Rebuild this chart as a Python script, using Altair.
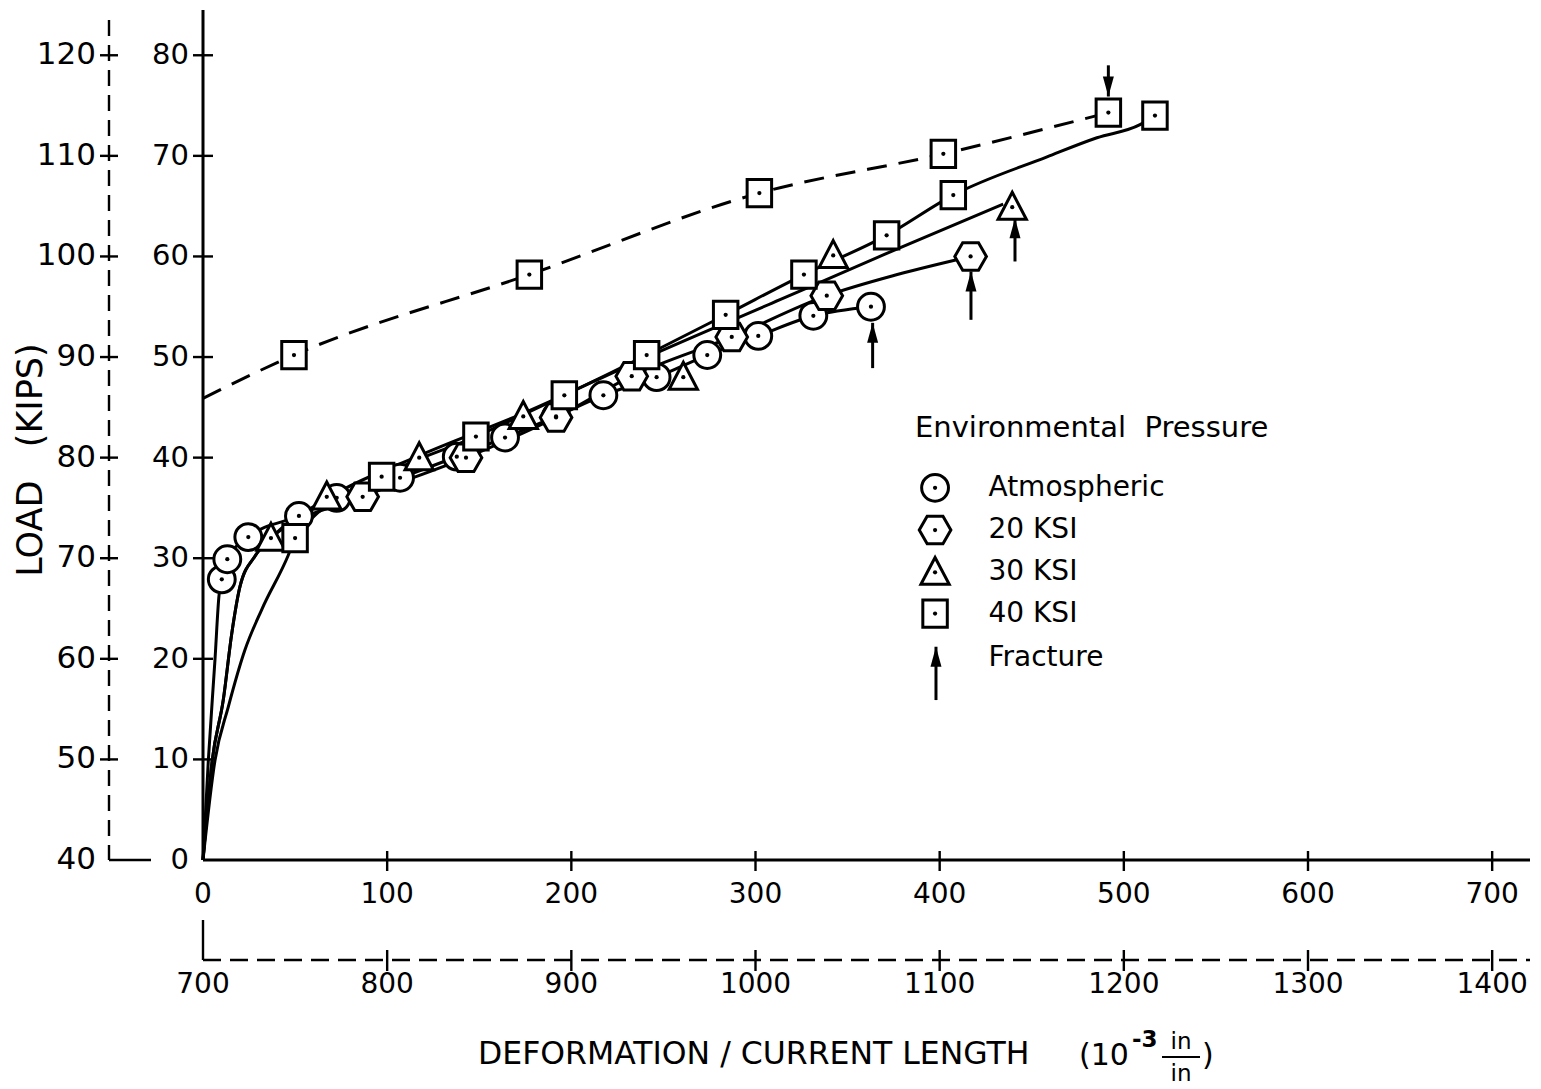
import altair as alt
import pandas as pd

# ---------------- data ----------------
# markers (primary axes: deformation x 10^-3, load in kips)
atm_x = [10.2, 13.2, 24.6, 52.1, 72.6, 107.0, 137.8, 164.0, 191.7, 217.4, 246.3, 273.8, 301.5, 331.4, 362.7]
atm_y = [27.9, 29.9, 32.1, 34.2, 36.0, 38.0, 40.1, 42.0, 44.1, 46.2, 48.0, 50.2, 52.1, 54.1, 55.0]
k20_x = [86.7, 142.8, 191.7, 232.8, 287.1, 338.7, 416.8]
k20_y = [36.1, 40.0, 44.0, 48.1, 52.0, 56.1, 60.0]
k30_x = [36.9, 67.2, 117.4, 173.9, 260.8, 342.2, 439.4]
k30_y = [32.0, 36.1, 40.0, 44.1, 48.0, 60.1, 64.9]
k40_x = [50.0, 97.0, 148.2, 196.2, 240.9, 283.8, 326.3, 371.2, 407.4, 516.9]
k40_y = [32.0, 38.1, 42.1, 46.2, 50.2, 54.2, 58.2, 62.1, 66.1, 74.0]
k40d_x = [49.4, 177.2, 302.1, 402.0, 491.6]
k40d_y = [50.2, 58.2, 66.3, 70.2, 74.3]

# hand-drawn fitted curves
atm_fit_x = [0, 2.9, 6.5, 8.7, 10.2, 13.2, 24.6, 52.1, 72.6, 107.0, 137.8, 164.0, 191.7, 217.4, 246.3, 273.8, 301.5, 331.4, 362.7]
atm_fit_y = [0, 9.9, 19.9, 26.3, 27.9, 29.9, 32.1, 34.2, 36.0, 38.0, 40.1, 42.0, 44.1, 46.2, 48.0, 50.2, 52.1, 54.1, 55.0]
k20_fit_x = [0, 5.0, 11.0, 15.6, 20.1, 28.2, 36.9, 86.7, 142.8, 191.7, 232.8, 287.1, 338.7, 377.0, 416.8]
k20_fit_y = [0, 9.9, 15.9, 22.5, 27.2, 30.2, 32.0, 36.1, 40.0, 44.0, 48.1, 52.0, 56.1, 58.2, 60.0]
k30_fit_x = [0, 5.0, 11.0, 15.6, 20.1, 28.2, 36.9, 67.2, 117.4, 173.9, 240.0, 313.3, 370.0, 434.5]
k30_fit_y = [0, 9.9, 15.9, 22.5, 27.2, 30.2, 32.0, 35.9, 40.2, 44.4, 49.9, 55.7, 60.2, 65.2]
k40_fit_x = [0, 6.5, 13.7, 22.8, 31.9, 46.3, 50.0, 97.0, 148.2, 196.2, 240.9, 283.8, 326.3, 371.2, 407.4, 458.3, 485.4, 508.8, 516.9]
k40_fit_y = [0, 9.9, 15.2, 20.9, 24.9, 30.3, 32.0, 38.1, 42.1, 46.2, 50.2, 54.2, 58.2, 62.1, 66.1, 69.9, 71.8, 73.1, 74.0]
k40d_fit_x = [0, 49.4, 177.2, 302.1, 402.0, 491.6]
k40d_fit_y = [45.9, 50.2, 58.2, 66.3, 70.2, 74.3]

# fracture arrows (x, tail, tip)
frac_x = [363.6, 417.0, 440.9]
frac_tail = [48.9, 53.7, 59.5]
frac_tip = [53.4, 58.5, 63.8]
fracd_x = [491.6]
fracd_tail = [79.0]
fracd_tip = [75.9]

# legend
NB = "\u00a0"
legend_title = "Environmental" + NB + NB + "Pressure"
legend_labels = ["Atmospheric", "20 KSI", "30 KSI", "40 KSI", "Fracture"]
legend_sym_x = 397.5
legend_lab_x = 426.5
legend_rows_y = [37.0, 32.8, 28.6, 24.5, 20.1]
legend_arrow = (398.0, 15.9, 21.2)

# axes
y_ticks = [0, 10, 20, 30, 40, 50, 60, 70, 80]
y_tick_labels = ["0", "10", "20", "30", "40", "50", "60", "70", "80"]
y2_tick_labels = ["40", "50", "60", "70", "80", "90", "100", "110", "120"]
x_ticks = [0, 100, 200, 300, 400, 500, 600, 700]
x_tick_labels = ["0", "100", "200", "300", "400", "500", "600", "700"]
x2_tick_labels = ["700", "800", "900", "1000", "1100", "1200", "1300", "1400"]

# ---------------- styling ----------------
FONT = "DejaVu Sans"
W, H = 1326, 850
XS = alt.Scale(domain=[0, 720], nice=False, zero=False)
YS = alt.Scale(domain=[0, 84.5], nice=False, zero=False)
SW = 3.0

HEX = "M -1 0 L -0.5 -0.87 L 0.5 -0.87 L 1 0 L 0.5 0.87 L -0.5 0.87 Z"
TRI = "M 0 -1.05 L 1 0.85 L -1 0.85 Z"
SQR = "M -0.9 -1 L 0.9 -1 L 0.9 1 L -0.9 1 Z"
ARROW_UP = "M 0 0 L 0.55 2 L -0.55 2 Z"
ARROW_DN = "M 0 0 L 0.55 -2 L -0.55 -2 Z"


def X(f="x"):
    return alt.X(f"{f}:Q", scale=XS, axis=None)


def Y(f="y"):
    return alt.Y(f"{f}:Q", scale=YS, axis=None)


def frame(xs, ys):
    return pd.DataFrame({"x": xs, "y": ys})


layers = []

# fitted curves
for fx, fy in [(atm_fit_x, atm_fit_y), (k20_fit_x, k20_fit_y), (k30_fit_x, k30_fit_y), (k40_fit_x, k40_fit_y)]:
    layers.append(alt.Chart(frame(fx, fy)).mark_line(interpolate="monotone", color="black", strokeWidth=SW)
                  .encode(x=X(), y=Y()))
layers.append(alt.Chart(frame(k40d_fit_x, k40d_fit_y)).mark_line(interpolate="monotone", color="black",
                                                                   strokeWidth=SW, strokeDash=[20, 12])
              .encode(x=X(), y=Y()))

# markers (+ legend symbols)
sym_specs = [
    ("circle", 720, atm_x, atm_y, legend_rows_y[0]),
    (HEX, 1000, k20_x, k20_y, legend_rows_y[1]),
    (TRI, 800, k30_x, k30_y, legend_rows_y[2]),
    (SQR, 740, k40_x + k40d_x, k40_y + k40d_y, legend_rows_y[3]),
]
dot_x, dot_y = [], []
for shape, size, xs, ys, ly in sym_specs:
    px = list(xs) + [legend_sym_x]
    py = list(ys) + [ly]
    dot_x += px
    dot_y += py
    layers.append(alt.Chart(frame(px, py)).mark_point(shape=shape, size=size, filled=True, fill="white",
                                                      stroke="black", strokeWidth=SW, opacity=1)
                  .encode(x=X(), y=Y()))
layers.append(alt.Chart(frame(dot_x, dot_y)).mark_circle(size=18, color="black", opacity=1)
              .encode(x=X(), y=Y()))

# fracture arrows
arr = pd.DataFrame({"x": frac_x + [legend_arrow[0]], "tail": frac_tail + [legend_arrow[1]],
                    "tip": frac_tip + [legend_arrow[2]]})
layers.append(alt.Chart(arr).mark_rule(color="black", strokeWidth=3)
              .encode(x=X(), y=Y("tail"), y2="tip:Q"))
layers.append(alt.Chart(arr).mark_point(shape=ARROW_UP, size=400, filled=True, color="black", opacity=1)
              .encode(x=X(), y=Y("tip")))
arrd = pd.DataFrame({"x": fracd_x, "tail": fracd_tail, "tip": fracd_tip})
layers.append(alt.Chart(arrd).mark_rule(color="black", strokeWidth=3)
              .encode(x=X(), y=Y("tail"), y2="tip:Q"))
layers.append(alt.Chart(arrd).mark_point(shape=ARROW_DN, size=400, filled=True, color="black", opacity=1)
              .encode(x=X(), y=Y("tip")))

# legend text
leg = pd.DataFrame({"x": [legend_lab_x] * 5, "y": legend_rows_y, "t": legend_labels})
layers.append(alt.Chart(leg).mark_text(align="left", baseline="middle", font=FONT, fontSize=28, color="black")
              .encode(x=X(), y=Y(), text="t:N"))
legt = pd.DataFrame({"x": [386.6], "y": [42.9], "t": [legend_title]})
layers.append(alt.Chart(legt).mark_text(align="left", baseline="middle", font=FONT, fontSize=29, color="black")
              .encode(x=X(), y=Y(), text="t:N"))

# ---------------- axes ----------------
one = pd.DataFrame({"a": [0]})
# primary y axis line
layers.append(alt.Chart(one).mark_rule(color="black", strokeWidth=SW)
              .encode(x=alt.value(0), y=alt.value(0), y2=alt.value(H)))
ydf = pd.DataFrame({"y": y_ticks, "t": y_tick_labels, "t2": y2_tick_labels})
ydf_t = ydf[ydf["y"] > 0]
layers.append(alt.Chart(ydf_t).mark_rule(color="black", strokeWidth=2.4)
              .encode(y=Y(), x=alt.value(-10), x2=alt.value(10)))
layers.append(alt.Chart(ydf).mark_text(align="right", baseline="middle", font=FONT, fontSize=29, color="black")
              .encode(y=Y(), x=alt.value(-14), text="t:N"))
# secondary (dashed) y axis
layers.append(alt.Chart(one).mark_rule(color="black", strokeWidth=2.4, strokeDash=[16, 9])
              .encode(x=alt.value(-94), y=alt.value(10), y2=alt.value(H)))
layers.append(alt.Chart(one).mark_rule(color="black", strokeWidth=2.4)
              .encode(x=alt.value(-94), x2=alt.value(-52), y=alt.value(H)))
layers.append(alt.Chart(ydf_t).mark_rule(color="black", strokeWidth=2.4)
              .encode(y=Y(), x=alt.value(-103), x2=alt.value(-85)))
layers.append(alt.Chart(ydf).mark_text(align="right", baseline="middle", font=FONT, fontSize=31, color="black")
              .encode(y=Y(), x=alt.value(-107), text="t2:N"))
# primary x axis
layers.append(alt.Chart(one).mark_rule(color="black", strokeWidth=SW)
              .encode(y=alt.value(H), x=alt.value(0), x2=alt.value(W + 1)))
xdf = pd.DataFrame({"x": x_ticks, "t": x_tick_labels, "t2": x2_tick_labels})
xdf_t = xdf[xdf["x"] > 0]
layers.append(alt.Chart(xdf_t).mark_rule(color="black", strokeWidth=2.4)
              .encode(x=X(), y=alt.value(H - 9), y2=alt.value(H + 11)))
layers.append(alt.Chart(xdf).mark_text(align="center", baseline="middle", font=FONT, fontSize=28, color="black")
              .encode(x=X(), y=alt.value(H + 35), text="t:N"))
# secondary (dashed) x axis
layers.append(alt.Chart(one).mark_rule(color="black", strokeWidth=2.4)
              .encode(x=alt.value(0), y=alt.value(H + 60), y2=alt.value(H + 100)))
layers.append(alt.Chart(one).mark_rule(color="black", strokeWidth=2.4, strokeDash=[18, 9])
              .encode(y=alt.value(H + 100), x=alt.value(0), x2=alt.value(W + 1)))
layers.append(alt.Chart(xdf_t).mark_rule(color="black", strokeWidth=2.4)
              .encode(x=X(), y=alt.value(H + 90), y2=alt.value(H + 111)))
layers.append(alt.Chart(xdf).mark_text(align="center", baseline="middle", font=FONT, fontSize=28, color="black")
              .encode(x=X(), y=alt.value(H + 125), text="t2:N"))

# axis titles
ytitle = pd.DataFrame({"t": ["LOAD" + NB * 3 + "(KIPS)"]})
layers.append(alt.Chart(ytitle).mark_text(angle=270, align="center", baseline="middle", font=FONT, fontSize=35,
                                          color="black")
              .encode(x=alt.value(-172), y=alt.value(450), text="t:N"))
xt_main = pd.DataFrame({"t": ["DEFORMATION / CURRENT LENGTH"]})
layers.append(alt.Chart(xt_main).mark_text(align="left", baseline="middle", font=FONT, fontSize=31.5, color="black")
              .encode(x=alt.value(275), y=alt.value(H + 195), text="t:N"))
xt_p = pd.DataFrame({"t": ["(10"]})
layers.append(alt.Chart(xt_p).mark_text(align="left", baseline="middle", font=FONT, fontSize=30, color="black")
              .encode(x=alt.value(876), y=alt.value(H + 196), text="t:N"))
xt_e = pd.DataFrame({"t": ["-3"]})
layers.append(alt.Chart(xt_e).mark_text(align="left", baseline="middle", font=FONT, fontSize=23,
                                        fontWeight="bold", color="black")
              .encode(x=alt.value(929), y=alt.value(H + 180), text="t:N"))
xt_n = pd.DataFrame({"t": ["in"]})
layers.append(alt.Chart(xt_n).mark_text(align="center", baseline="middle", font=FONT, fontSize=23, color="black")
              .encode(x=alt.value(978), y=alt.value(H + 182), text="t:N"))
layers.append(alt.Chart(xt_n).mark_text(align="center", baseline="middle", font=FONT, fontSize=23, color="black")
              .encode(x=alt.value(978), y=alt.value(H + 214), text="t:N"))
layers.append(alt.Chart(one).mark_rule(color="black", strokeWidth=2.2)
              .encode(y=alt.value(H + 197), x=alt.value(959), x2=alt.value(997)))
xt_c = pd.DataFrame({"t": [")"]})
layers.append(alt.Chart(xt_c).mark_text(align="left", baseline="middle", font=FONT, fontSize=30, color="black")
              .encode(x=alt.value(999), y=alt.value(H + 196), text="t:N"))

chart = alt.layer(*layers).properties(
    width=W, height=H,
    padding={"left": 203, "top": 10, "right": 12, "bottom": 229},
    autosize=alt.AutoSizeParams(type="none"),
    background="white",
).configure_view(stroke=None)

chart.save("out.html", embed_options={"renderer": "svg", "actions": False})
